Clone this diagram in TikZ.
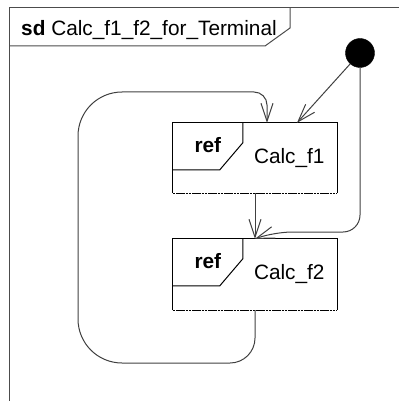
\documentclass[tikz,border=0pt]{standalone}
\usepackage{fontspec}
\setmainfont{Liberation Sans}
\usetikzlibrary{arrows.meta}
\begin{document}
\begin{tikzpicture}[x=1pt,y=-1pt,
  every node/.style={font=\fontsize{20.8}{25}\selectfont},
  frameline/.style={draw=black!70,line width=1pt},
  boxline/.style={draw=black,line width=1pt},
  boxbottom/.style={draw=black,line width=1.3pt,dash pattern=on 2.5pt off 0.7pt},
  refbox/.style={draw=none,minimum width=164pt,minimum height=70pt,inner sep=0pt},
  conn/.style={draw=black!75,line width=1pt,-{Straight Barb[length=18pt,width=12pt]}},
  initstate/.style={circle,fill=black,draw=black,minimum size=29pt,inner sep=0pt}]
\useasboundingbox (0,0) rectangle (399,401);

% diagram frame and its name tab
\draw[frameline] (9.5,401) -- (9.5,7.5) -- (399,7.5);
\draw[frameline] (9.5,46) -- (265,46) -- (290,28) -- (290,7.5);
\node[anchor=base west,inner sep=0pt] (title) at (21,36) {\textbf{sd} Calc\_f1\_f2\_for\_Terminal};

% initial state
\node[initstate] (init) at (360,53) {};

% interaction uses
\node[refbox] (b1) at (255,158) {};
\node[refbox,minimum height=71pt] (b2) at (255,274.5) {};
\foreach \b/\t in {b1/Calc\_f1,b2/Calc\_f2}{
  \draw[boxline] (\b.south west) -- (\b.north west) -- (\b.north east) -- (\b.south east);
  \draw[boxbottom] (\b.south west) -- (\b.south east);
  \draw[boxline] ([xshift=70pt]\b.north west) -- ++(0,20) -- ++(-23,27) -- ++(-47,0);
  \node[anchor=base,inner sep=0pt] (\b ref) at ([shift={(35,30)}]\b.north west) {\bfseries ref};
  \node[anchor=base west,inner sep=0pt] (\b name) at ([shift={(81,41)}]\b.north west) {\t};
}

% control flow
\coordinate (in1) at ([xshift=42pt]b1.north);
\coordinate (in1loop) at ([xshift=12pt]b1.north);
\draw[conn] (init) -- (in1);
\draw[conn,rounded corners=17pt] (init.south) -- (360,232) -- (275,232) -- (b2.north);
\draw[conn] (b1.south) -- (b2.north);
\draw[conn] (b2.south) [rounded corners=25pt] -- (255,363) -- (150,363)
  [rounded corners=44pt] -- (78,363) -- (78,92) -- (200,92)
  [rounded corners=13pt] -- (267,92) -- (in1loop);
\end{tikzpicture}
\end{document}
